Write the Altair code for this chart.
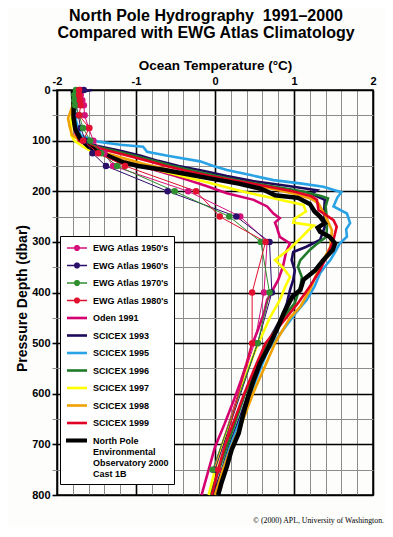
import altair as alt
import pandas as pd

# ---------------- data ----------------
SERIES = [
    "EWG Atlas 1950's", "EWG Atlas 1960's", "EWG Atlas 1970's", "EWG Atlas 1980's",
    "Oden 1991", "SCICEX 1993", "SCICEX 1995", "SCICEX 1996", "SCICEX 1997",
    "SCICEX 1998", "SCICEX 1999", "North Pole Environmental Observatory 2000 Cast 1B",
]
COLORS = [
    "#d4107a", "#2b0f6b", "#2f8f2f", "#e0102e",
    "#d4006f", "#1e0a5a", "#2aa3e6", "#1f7a2a", "#ffff00",
    "#f0a000", "#e00024", "#000000",
]

EWG_DEPTH = [0, 10, 20, 30, 50, 75, 100, 125, 150, 200, 250, 300, 400, 500, 750]
EWG_1950 = [-1.70, -1.70, -1.68, -1.66, -1.65, -1.60, -1.54, -1.40, -1.29, -0.34, 0.32, 0.66, 0.62, 0.50, -0.02]
EWG_1960 = [-1.66, -1.74, -1.76, -1.76, -1.73, -1.70, -1.64, -1.55, -1.38, -0.60, 0.27, 0.69, 0.72, 0.54, 0.00]
EWG_1970 = [-1.76, -1.78, -1.78, -1.77, -1.72, -1.67, -1.58, -1.44, -1.24, -0.51, 0.18, 0.58, 0.69, 0.54, -0.03]
EWG_1980 = [-1.72, -1.72, -1.71, -1.70, -1.72, -1.59, -1.67, -1.48, -1.14, -0.24, 0.06, 0.64, 0.47, 0.47, 0.04]

ODEN_P = [0, 30, 60, 90, 100, 110, 120, 130, 140, 150, 160, 170, 180, 190, 204, 217, 230, 244, 253, 262, 270, 280, 290, 303, 320, 349, 375, 415, 441, 475, 507, 540, 573, 612, 660, 705, 750, 800]
ODEN_T = [-1.78, -1.80, -1.80, -1.76, -1.72, -1.62, -1.48, -1.32, -1.15, -0.95, -0.72, -0.50, -0.30, -0.10, 0.15, 0.49, 0.66, 0.74, 0.82, 0.76, 0.78, 0.80, 0.82, 0.95, 0.90, 0.86, 0.80, 0.66, 0.62, 0.54, 0.46, 0.40, 0.33, 0.24, 0.12, 0.00, -0.08, -0.17]

SC93_P = [0, 4, 15, 50, 80, 100, 110, 120, 130, 140, 150, 160, 170, 180, 190, 198, 205, 217, 240, 270, 296, 310, 320, 336, 356, 375, 395, 421, 450, 500, 550, 600, 650, 700, 750, 800]
SC93_T = [-1.56, -1.70, -1.80, -1.80, -1.77, -1.70, -1.50, -1.20, -0.94, -0.72, -0.46, -0.14, 0.15, 0.48, 0.95, 1.29, 1.22, 1.39, 1.38, 1.39, 1.33, 1.15, 0.99, 0.97, 1.01, 0.99, 0.95, 0.91, 0.84, 0.66, 0.55, 0.42, 0.31, 0.19, 0.09, -0.02]

SC95_P = [0, 30, 60, 90, 102, 108, 112, 122, 130, 141, 150, 158, 168, 178, 185, 191, 202, 212, 230, 244, 263, 275, 290, 303, 320, 336, 349, 362, 388, 415, 441, 470, 514, 560, 612, 660, 705, 750, 800]
SC95_T = [-1.76, -1.78, -1.76, -1.70, -1.48, -1.20, -0.91, -0.86, -0.60, -0.19, -0.02, 0.15, 0.45, 0.74, 1.10, 1.37, 1.60, 1.55, 1.50, 1.67, 1.71, 1.66, 1.67, 1.58, 1.52, 1.46, 1.39, 1.33, 1.26, 1.16, 1.02, 0.88, 0.67, 0.55, 0.42, 0.30, 0.19, 0.10, 0.02]

SC96_P = [0, 20, 50, 80, 100, 110, 120, 130, 140, 150, 160, 170, 180, 190, 200, 210, 214, 230, 260, 290, 305, 316, 336, 349, 370, 388, 421, 450, 500, 550, 600, 650, 700, 750, 800]
SC96_T = [-1.75, -1.80, -1.80, -1.76, -1.70, -1.55, -1.28, -1.02, -0.78, -0.54, -0.26, 0.02, 0.33, 0.72, 1.10, 1.35, 1.43, 1.40, 1.42, 1.41, 1.28, 1.20, 1.08, 1.05, 1.10, 1.08, 1.01, 0.86, 0.66, 0.52, 0.38, 0.27, 0.16, 0.05, -0.06]

SC97_P = [0, 30, 60, 89, 100, 112, 122, 132, 142, 152, 162, 172, 182, 191, 201, 214, 227, 240, 255, 262, 268, 277, 290, 313, 336, 349, 369, 388, 415, 448, 514, 560, 612, 660, 705, 750, 800]
SC97_T = [-1.78, -1.80, -1.82, -1.82, -1.78, -1.67, -1.55, -1.35, -1.12, -0.88, -0.62, -0.38, -0.10, 0.12, 0.36, 0.74, 1.12, 1.15, 1.00, 0.99, 1.25, 1.18, 1.10, 0.95, 0.76, 0.85, 0.95, 0.89, 0.82, 0.70, 0.51, 0.40, 0.28, 0.18, 0.08, 0.00, -0.08]

SC98_P = [0, 30, 56, 72, 89, 100, 110, 117, 125, 135, 145, 155, 165, 175, 185, 195, 205, 215, 224, 250, 277, 310, 336, 362, 395, 428, 450, 500, 550, 600, 650, 700, 750, 800]
SC98_T = [-1.78, -1.80, -1.86, -1.84, -1.81, -1.70, -1.58, -1.50, -1.38, -1.15, -0.92, -0.65, -0.38, 0.02, 0.36, 0.72, 1.00, 1.22, 1.31, 1.40, 1.48, 1.46, 1.37, 1.29, 1.20, 1.08, 0.95, 0.76, 0.62, 0.48, 0.36, 0.22, 0.10, 0.00]

SC99_P = [0, 20, 50, 80, 100, 110, 120, 130, 140, 150, 160, 170, 180, 190, 200, 210, 217, 237, 257, 270, 296, 323, 356, 388, 421, 450, 500, 550, 600, 650, 700, 750, 800]
SC99_T = [-1.75, -1.78, -1.80, -1.77, -1.72, -1.58, -1.35, -1.10, -0.85, -0.62, -0.35, -0.06, 0.28, 0.65, 0.98, 1.22, 1.29, 1.31, 1.50, 1.54, 1.50, 1.43, 1.33, 1.20, 1.05, 0.90, 0.64, 0.50, 0.37, 0.25, 0.13, 0.04, -0.04]

NPEO_P = [0, 30, 56, 76, 95, 112, 125, 142, 150, 158, 165, 175, 185, 195, 202, 208, 213, 225, 240, 250, 263, 272, 280, 290, 303, 316, 336, 356, 375, 395, 408, 441, 474, 507, 540, 573, 606, 639, 678, 711, 744, 777, 800]
NPEO_T = [-1.80, -1.79, -1.79, -1.77, -1.71, -1.60, -1.43, -1.18, -0.97, -0.64, -0.40, -0.05, 0.30, 0.58, 0.68, 0.76, 1.05, 1.20, 1.26, 1.33, 1.39, 1.30, 1.33, 1.45, 1.52, 1.49, 1.37, 1.27, 1.12, 1.08, 0.98, 0.87, 0.78, 0.68, 0.57, 0.49, 0.42, 0.36, 0.30, 0.21, 0.15, 0.08, 0.04]

X_TICKS = [round(-2 + 0.2 * i, 1) for i in range(21)]
Y_TICKS = list(range(0, 801, 50))

# ---------------- tables ----------------
ewg = [(SERIES[0], EWG_1950), (SERIES[1], EWG_1960), (SERIES[2], EWG_1970), (SERIES[3], EWG_1980)]
ctd = [(SERIES[4], ODEN_P, ODEN_T), (SERIES[5], SC93_P, SC93_T), (SERIES[6], SC95_P, SC95_T),
       (SERIES[7], SC96_P, SC96_T), (SERIES[8], SC97_P, SC97_T), (SERIES[9], SC98_P, SC98_T),
       (SERIES[10], SC99_P, SC99_T), (SERIES[11], NPEO_P, NPEO_T)]

rows = []
for name, temps in ewg:
    for p, t in zip(EWG_DEPTH, temps):
        rows.append({"series": name, "P": p, "T": t, "kind": "ewg"})
for name, ps, ts in ctd:
    for p, t in zip(ps, ts):
        rows.append({"series": name, "P": p, "T": t, "kind": "ctd"})
df = pd.DataFrame(rows)

# one key row per series (deepest reading), used only to carry the legend
df_key = df.sort_values("P").groupby("series", as_index=False).last()

FONT = "Liberation Sans"
INT_TEST = "abs(datum.value - round(datum.value)) < 0.001"
HUND_TEST = "datum.value % 100 == 0"

x_axis = alt.Axis(
    orient="top", values=X_TICKS, title="Ocean Temperature (°C)",
    titleFont=FONT, titleFontSize=13.5, titleFontWeight="bold", titleColor="black", titlePadding=3,
    labelFont=FONT, labelFontSize=11, labelFontWeight="bold", labelColor="black", labelPadding=4,
    labelExpr=f"{INT_TEST} ? toString(round(datum.value)) : ''",
    labelOverlap=False, labelFlush=False, ticks=False, tickSize=0, domain=False,
    grid=True, gridOpacity=1,
    gridColor={"condition": {"test": INT_TEST, "value": "#000000"}, "value": "#8c8c8c"},
    gridWidth={"condition": {"test": INT_TEST, "value": 1.6}, "value": 1},
)
y_axis = alt.Axis(
    orient="left", values=Y_TICKS, title="Pressure Depth (dbar)",
    titleFont=FONT, titleFontSize=14, titleFontWeight="bold", titleColor="black", titlePadding=2,
    titleY=208,
    labelFont=FONT, labelFontSize=11, labelFontWeight="bold", labelColor="black", labelPadding=2,
    labelExpr=f"{HUND_TEST} ? datum.label : ''", labelOverlap=False, labelFlush=False,
    tickSize=5,
    tickColor={"condition": {"test": HUND_TEST, "value": "#000000"}, "value": "#8c8c8c"},
    tickWidth={"condition": {"test": HUND_TEST, "value": 1.6}, "value": 1},
    domain=False, grid=True, gridOpacity=1,
    gridColor={"condition": {"test": HUND_TEST, "value": "#000000"}, "value": "#8c8c8c"},
    gridWidth={"condition": {"test": HUND_TEST, "value": 1.6}, "value": 1},
)

X = alt.X("T:Q", scale=alt.Scale(domain=[-2, 2], nice=False, zero=False), axis=x_axis)
Y = alt.Y("P:Q", scale=alt.Scale(domain=[0, 800], reverse=True, nice=False), axis=y_axis)

# the mark scales list the series in reverse order so that their (hidden) legends
# are not merged with the visible key legend below
mark_scale = alt.Scale(domain=SERIES[::-1], range=COLORS[::-1])

base = alt.Chart(df)

ctd_lines = base.transform_filter(
    f"datum.kind == 'ctd' && datum.series != '{SERIES[11]}'"
).mark_line(strokeWidth=2.6).encode(
    x=X, y=Y, order=alt.Order("P:Q"),
    stroke=alt.Stroke("series:N", scale=mark_scale, legend=None),
)
npeo_line = base.transform_filter(
    f"datum.series == '{SERIES[11]}'"
).mark_line(strokeWidth=4.5).encode(
    x=X, y=Y, order=alt.Order("P:Q"),
    stroke=alt.Stroke("series:N", scale=mark_scale, legend=None),
)
ewg_lines = base.transform_filter("datum.kind == 'ewg'").mark_line(strokeWidth=1).encode(
    x=X, y=Y, order=alt.Order("P:Q"),
    stroke=alt.Stroke("series:N", scale=mark_scale, legend=None),
)
ewg_pts = base.transform_filter("datum.kind == 'ewg'").mark_circle(size=42, opacity=1).encode(
    x=X, y=Y,
    fill=alt.Fill("series:N", scale=mark_scale, legend=None),
)

# legend key glyphs (unit = 7 px with symbolSize 196): 20 px wide swatches
EWG_SYM = ("M-0.714,-0.1L2.143,-0.1L2.143,0.1L-0.714,0.1Z "
           "M1.143,0A0.4286,0.4286 0 1,1 0.286,0A0.4286,0.4286 0 1,1 1.143,0Z")
CTD_SYM = "M-0.714,-0.186L2.143,-0.186L2.143,0.186L-0.714,0.186Z"
NPEO_SYM = "M-0.857,-0.29L2.143,-0.29L2.143,0.29L-0.857,0.29Z"
SHAPES = [EWG_SYM] * 4 + [CTD_SYM] * 7 + [NPEO_SYM]

NB = "\u00a0"
legend = alt.Legend(
    title=None, orient="none", legendX=3, legendY=146,
    labelFont=FONT, labelFontSize=9, labelFontWeight="bold", labelColor="black", labelLimit=220,
    labelOffset=14, symbolSize=196, symbolStrokeWidth=0, symbolOpacity=1, rowPadding=5.5, padding=5,
    fillColor="white", strokeColor="black",
    labelExpr=("datum.label == '" + SERIES[11] + "' ? "
               "['North Pole', 'Environmental', 'Observatory 2000" + NB * 5 + "', 'Cast 1B'] : datum.label"),
)
# invisible key marks (size 0) that only carry the legend
legend_layer = alt.Chart(df_key).mark_point(filled=True, opacity=1, size=0).encode(
    x=X, y=Y,
    color=alt.Color("series:N", scale=alt.Scale(domain=SERIES, range=COLORS), legend=legend),
    shape=alt.Shape("series:N", scale=alt.Scale(domain=SERIES, range=SHAPES), legend=legend),
)

credit = alt.Chart(pd.DataFrame({"t": ["© (2000) APL, University of Washington."]})).mark_text(
    font="Liberation Serif", fontSize=7.8, align="right", baseline="alphabetic", color="black"
).encode(x=alt.value(327), y=alt.value(433), text="t:N")

chart = alt.layer(ctd_lines, npeo_line, ewg_lines, ewg_pts, legend_layer, credit).properties(
    width=316, height=405,
    autosize=alt.AutoSizeParams(type="none"),
    padding={"left": 49, "top": 82, "right": 12, "bottom": 32},
    background="#fdfdfc",
    title=alt.TitleParams(
        text=["North Pole Hydrography\u00a0 1991–2000", "Compared with EWG Atlas Climatology"],
        font=FONT, fontSize=16, fontWeight="bold", color="black", anchor="middle",
        frame="group", dx=-9, offset=1, baseline="bottom", lineHeight=17.5,
    ),
).configure_view(stroke="black", strokeWidth=1.5)

chart.save("out.html", embed_options={"renderer": "svg", "actions": False})
